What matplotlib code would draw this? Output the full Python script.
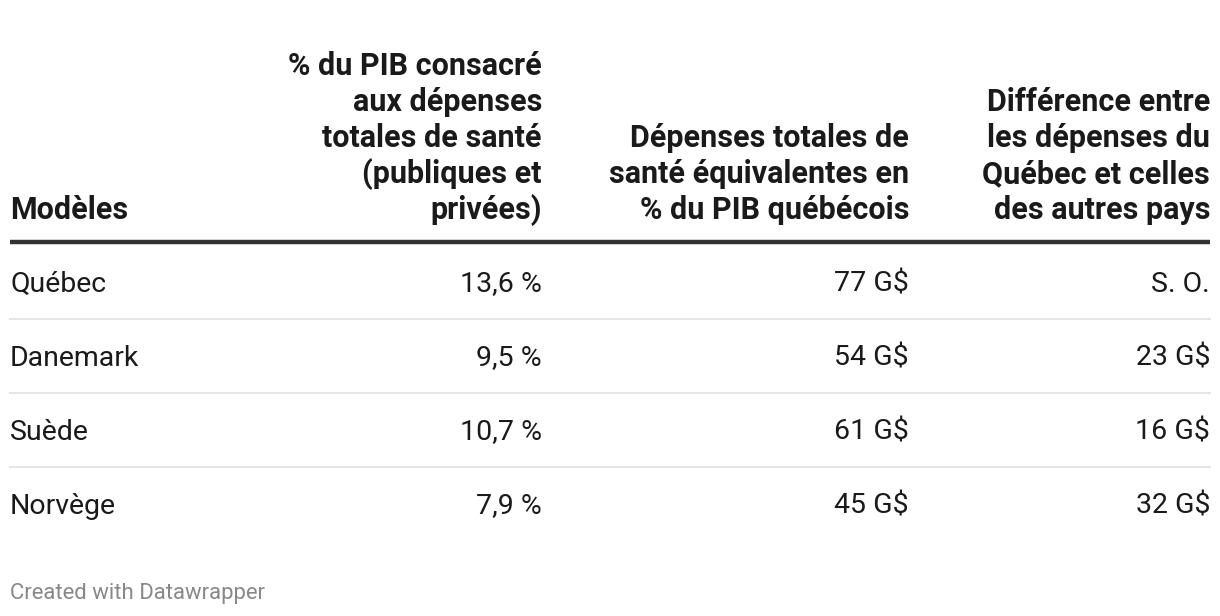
import matplotlib
matplotlib.use("Agg")
import matplotlib.pyplot as plt

plt.rcParams['font.family'] = ['Roboto', 'DejaVu Sans']

headers = [
    "Modèles",
    "% du PIB consacré\naux dépenses\ntotales de santé\n(publiques et\nprivées)",
    "Dépenses totales de\nsanté équivalentes en\n% du PIB québécois",
    "Différence entre\nles dépenses du\nQuébec et celles\ndes autres pays",
]
models = ["Québec", "Danemark", "Suède", "Norvège"]
pct_pib = ["13,6 %", "9,5 %", "10,7 %", "7,9 %"]
depenses = ["77 G$", "54 G$", "61 G$", "45 G$"]
difference = ["S. O.", "23 G$", "16 G$", "32 G$"]

W, H = 1220, 616
fig = plt.figure(figsize=(W / 100, H / 100), dpi=100)
ax = fig.add_axes([0, 0, 1, 1])
ax.set_xlim(0, W)
ax.set_ylim(H, 0)
ax.axis('off')

left, right = 10, 1210
col_x = [10, 542, 909, 1210]
col_ha = ['left', 'right', 'right', 'right']
line_h = 36

# header, bottom aligned
head_last = 210
for x, ha, txt in zip(col_x, col_ha, headers):
    lines = txt.split("\n")
    for i, ln in enumerate(reversed(lines)):
        ax.text(x, head_last - i * line_h, ln, ha=ha, va='center',
                fontsize=22, fontweight='bold', color='#1a1a1a')

ax.plot([left, right], [242, 242], color='#333333', lw=3.2, solid_capstyle='butt')

row_y0, row_h = 284, 74
cols = [models, pct_pib, depenses, difference]
for r in range(len(models)):
    y = row_y0 + r * row_h
    for x, ha, col in zip(col_x, col_ha, cols):
        ax.text(x, y, col[r], ha=ha, va='center', fontsize=20.5, color='#1a1a1a')
    if r < len(models) - 1:
        ax.plot([left, right], [319 + r * row_h] * 2, color='#e6e6e6', lw=1.5)

ax.text(left, 593, "Created with Datawrapper", ha='left', va='center',
        fontsize=15.9, color='#888888')

fig.savefig("out.png", dpi=100, facecolor='white')
